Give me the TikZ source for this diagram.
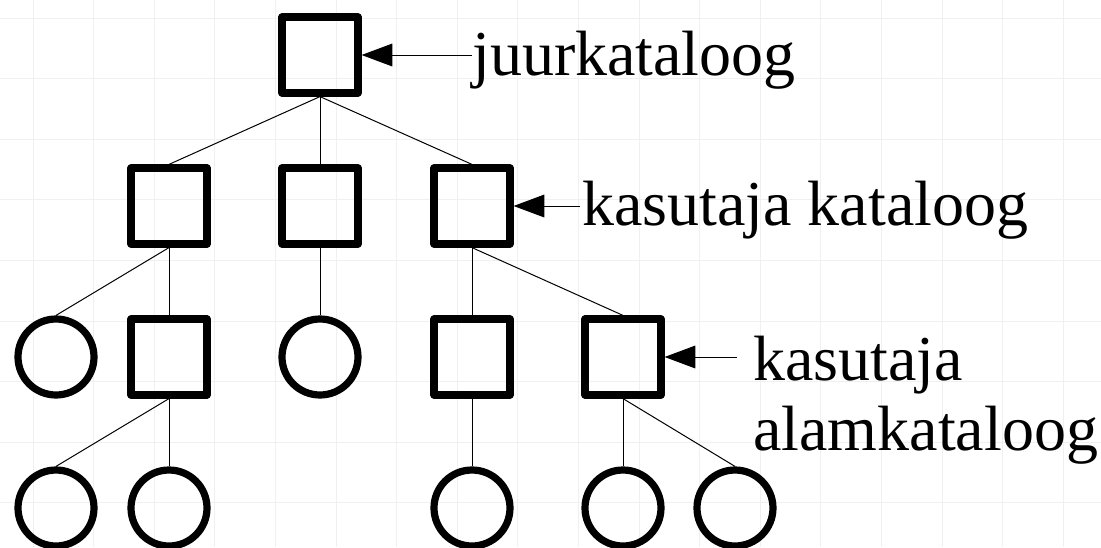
\documentclass[tikz,border=0pt]{standalone}
\usepackage{fontspec}
\setmainfont{LiberationSerif}[Extension=.ttf, UprightFont=*-Regular]
\usetikzlibrary{arrows.meta}

\begin{document}
\begin{tikzpicture}[x=0.75pt, y=-0.75pt,
    dir/.style={draw, line width=5.4pt, minimum size=57pt, inner sep=0pt, line join=round},
    file/.style={draw, circle, line width=5.4pt, minimum size=57pt, inner sep=0pt},
    edge/.style={line width=.75pt},
    pointer/.style={line width=.75pt, -{Triangle[length=23pt, width=17pt]}},
    lbl/.style={anchor=base west, inner sep=0pt, align=left, font=\fontsize{48}{52.5}\selectfont}]
        \useasboundingbox (0,0) rectangle (1101,547);
        % background grid
        \foreach \i in {0,...,17}
        \draw[gray!12, line width=.75pt] ({33+60.6*\i}, 0) -- ({33+60.6*\i}, 547);
        \foreach \j in {0,...,8}
        \draw[gray!12, line width=.75pt] (0, {18+60.6*\j}) -- (1101, {18+60.6*\j});
        % directories and files
        \node[dir] (juur) at (320, 55) {};
        \node[dir] (k1) at (169, 206) {};
        \node[dir] (k2) at (320, 206) {};
        \node[dir] (k3) at (472, 206) {};
        \node[file] (f1) at (56, 357) {};
        \node[dir] (a1) at (169, 357) {};
        \node[file] (f2) at (320, 357) {};
        \node[dir] (a2) at (472, 357) {};
        \node[dir] (a3) at (623, 357) {};
        \node[file] (f3) at (56, 508) {};
        \node[file] (f4) at (169, 508) {};
        \node[file] (f5) at (472, 508) {};
        \node[file] (f6) at (623, 508) {};
        \node[file] (f7) at (735, 508) {};
        \foreach \a/\b in {juur/k1, juur/k2, juur/k3, k1/f1, k1/a1, k2/f2, k3/a2, k3/a3, a1/f3, a1/f4, a2/f5, a3/f6, a3/f7}
        \draw[edge] (\a.south) -- (\b.north);
        % labels (a two-line node sits on its last baseline)
        \node[lbl] (t1) at (472, 75) {juurkataloog};
        \node[lbl] (t2) at (582, 225) {kasutaja kataloog};
        \node[lbl] (t3) at (753, 450) {kasutaja\\alamkataloog};
        \coordinate (p1) at (472, 55);
        \coordinate (p2) at (580, 206);
        \coordinate (p3) at (737, 357);
        \draw[pointer] (p1) -- (juur.east);
        \draw[pointer] (p2) -- (k3.east);
        \draw[pointer] (p3) -- (a3.east);
\end{tikzpicture}
\end{document}
